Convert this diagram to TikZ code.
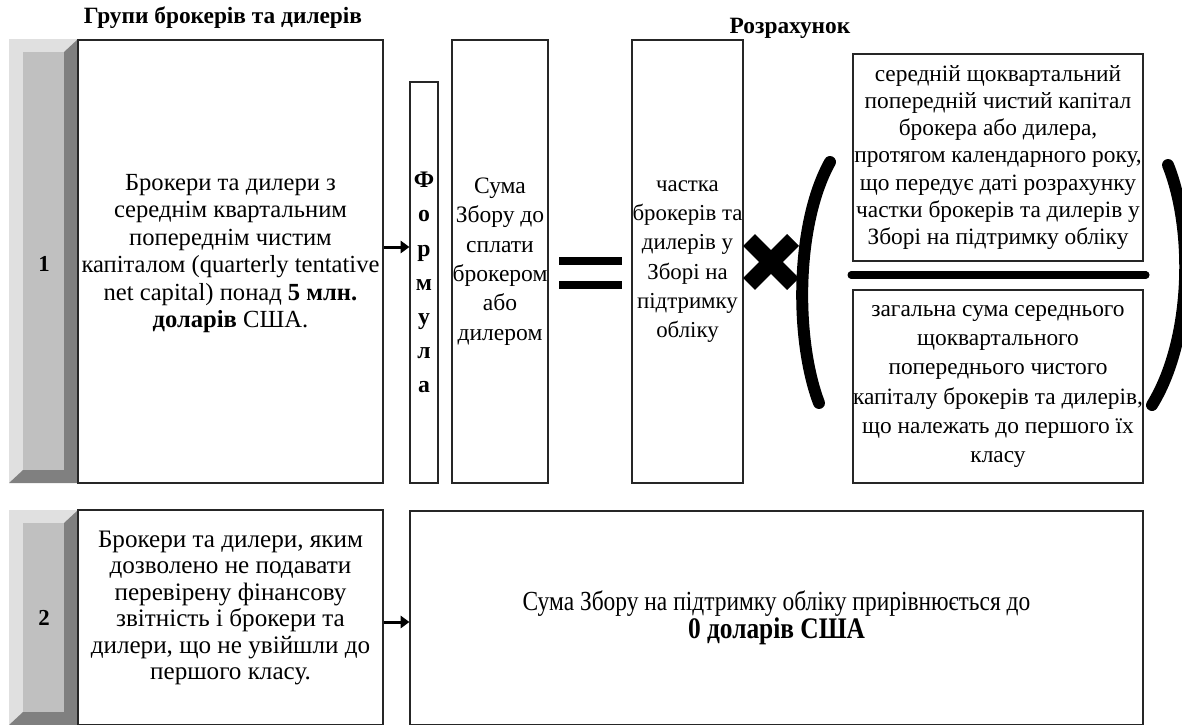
\documentclass[tikz,border=0pt]{standalone}
\usepackage{fontspec}
\setmainfont{Liberation Serif}
\newfontfamily\condfont[FakeStretch=0.85]{Liberation Serif}
\usepackage{tikz}
\usetikzlibrary{arrows.meta}

\definecolor{bevellight}{RGB}{224,224,224}
\definecolor{bevelface}{RGB}{192,192,192}
\definecolor{beveldark}{RGB}{128,128,128}

\def\pu{0.02cm}

\tikzset{
  box/.style={draw=black!85, line width=0.7pt, fill=white, inner sep=0pt, align=center,
    font=\fontsize{14pt}{15.6pt}\selectfont},
  head/.style={font=\bfseries\fontsize{13.3pt}{15pt}\selectfont},
  rownum/.style={font=\bfseries\fontsize{13pt}{15pt}\selectfont},
  arr/.style={-{Triangle[length=5pt,width=7pt]}, line width=1.7pt},
  paren/.style={line width=6.8pt, line cap=round},
}

% bevelled tab left of a row: {top}{bottom}
\newcommand\beveltab[2]{
  \fill[bevellight] (9,#1) -- (78,#1) -- (64,{#1+13}) -- (23,{#1+13}) -- (23,{#2-13}) -- (9,#2) -- cycle;
  \fill[beveldark] (78,#1) -- (78,#2) -- (9,#2) -- (23,{#2-13}) -- (64,{#2-13}) -- (64,{#1+13}) -- cycle;
  \fill[bevelface] (23,{#1+13}) rectangle (64,{#2-13});
}

\begin{document}
\begin{tikzpicture}[x=0.02cm, y=-0.02cm]

\useasboundingbox (0,0) rectangle (1182,724);
\clip (0,0) rectangle (1182,724);

\node[head] (hgroups) at (223,18) {Групи брокерів та дилерів};
\node[head] (hcalc) at (790,28) {Розрахунок};

\beveltab{39}{483}
\beveltab{510}{725}

\node[rownum] (n1) at (44,264) {1};
\node[rownum] (n2) at (44,618) {2};

\node[box, minimum width=305*\pu, minimum height=443*\pu, text depth=12pt] (grp1) at (230.5,261.5)
  {Брокери та дилери з\\ середнім квартальним\\ попереднім чистим\\ капіталом (quarterly tentative\\
   net capital) понад \textbf{5 млн.}\\ \textbf{доларів} США.};

\node[box, minimum width=28*\pu, minimum height=401*\pu, font=\bfseries\fontsize{13.5pt}{19.4pt}\selectfont]
  (formula) at (424,282.5) {Ф\\о\\р\\м\\у\\л\\а};

\node[box, minimum width=96*\pu, minimum height=443*\pu, font=\fontsize{13.4pt}{16.7pt}\selectfont]
  (fee) at (500,261.5) {Сума\\ Збору до\\ сплати\\ брокером\\ або\\ дилером};

\node[box, minimum width=111*\pu, minimum height=443*\pu, font=\fontsize{13pt}{16.7pt}\selectfont]
  (share) at (687.5,261.5) {частка\\ брокерів та\\ дилерів у\\ Зборі на\\ підтримку\\ обліку};

\node[box, minimum width=290*\pu, minimum height=207*\pu, font=\fontsize{13.3pt}{15.5pt}\selectfont]
  (numer) at (998,157.5)
  {середній щоквартальний\\ попередній чистий капітал\\ брокера або дилера,\\ протягом календарного року,\\
   що передує даті розрахунку\\ частки брокерів та дилерів у\\ Зборі на підтримку обліку};

\node[box, minimum width=290*\pu, minimum height=193*\pu, font=\fontsize{13.3pt}{16.6pt}\selectfont]
  (denom) at (998,386.5)
  {загальна сума середнього\\ щоквартального\\ попереднього чистого\\ капіталу брокерів та дилерів,\\
   що належать до першого їх\\ класу};

\node[box, minimum width=305*\pu, minimum height=215*\pu, text depth=14pt,
  font=\fontsize{14.3pt}{15.1pt}\selectfont] (grp2) at (230.5,617.5)
  {Брокери та дилери, яким\\ дозволено не подавати\\ перевірену фінансову\\ звітність і брокери та\\
   дилери, що не увійшли до\\ першого класу.};

\node[box, minimum width=733*\pu, minimum height=214*\pu, font=\condfont\fontsize{15.7pt}{16pt}\selectfont]
  (zero) at (776.5,618)
  {Сума Збору на підтримку обліку прирівнюється до\\ \fontsize{17pt}{16pt}\selectfont\textbf{0 доларів США}};

\coordinate (a1) at (383,247);
\coordinate (a2) at (383,622);
\draw[arr] (grp1.east |- a1) -- (formula.west |- a1);
\draw[arr] (grp2.east |- a2) -- (zero.west |- a2);

\fill (559,257) rectangle (622,265);
\fill (559,281) rectangle (622,289);

\draw[line width=9.6pt] (749,240) -- (793,284);
\draw[line width=9.6pt] (793,240) -- (749,284);

\draw[paren] (830,162) .. controls (795,225) and (795,340) .. (819,403);
\draw[paren] (1168,165) .. controls (1194,230) and (1192,340) .. (1152,405);
\draw[line width=4pt, line cap=round] (851,275) -- (1146,275);

\end{tikzpicture}
\end{document}
